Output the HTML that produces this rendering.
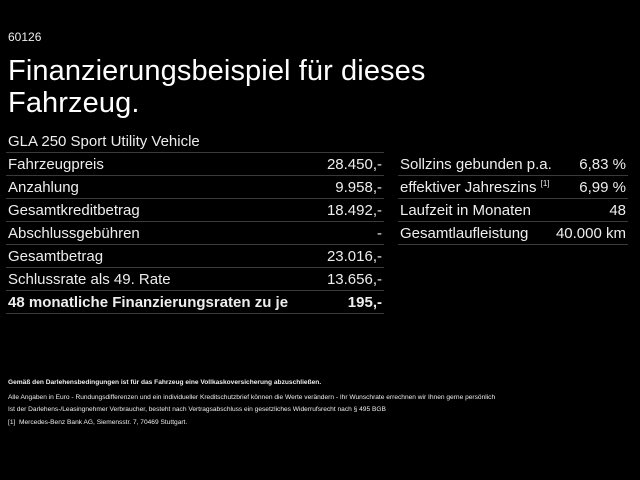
<!DOCTYPE html>
<html><head><meta charset="utf-8"><style>
body{margin:0;width:640px;height:480px;background:#000;color:#eee;font-family:"Liberation Sans",sans-serif;position:relative;overflow:hidden}
.a{position:absolute;white-space:nowrap}
.row{position:absolute;height:23px;border-bottom:1px solid #3a3a3a;font-size:15px;line-height:22px}
.row span{position:absolute;right:2px;top:2px}
.l{left:6px;width:378px}
.r{left:398px;width:230px}
.row .t{position:absolute;left:2px;right:auto}
sup{line-height:0;font-size:8px;vertical-align:6px}
.f{font-size:6.6px}
</style></head><body>
<div class="a" style="left:8px;top:30px;font-size:12px">60126</div>
<div class="a" style="left:8px;top:55px;font-size:29px;line-height:32px;color:#fff;letter-spacing:0.1px">Finanzierungsbeispiel für dieses<br>Fahrzeug.</div>
<div class="row l" style="top:129px"><span class="t">GLA 250 Sport Utility Vehicle</span></div>
<div class="row l" style="top:152px"><span class="t">Fahrzeugpreis</span><span>28.450,-</span></div>
<div class="row l" style="top:175px"><span class="t">Anzahlung</span><span>9.958,-</span></div>
<div class="row l" style="top:198px"><span class="t">Gesamtkreditbetrag</span><span>18.492,-</span></div>
<div class="row l" style="top:221px"><span class="t">Abschlussgebühren</span><span>-</span></div>
<div class="row l" style="top:244px"><span class="t">Gesamtbetrag</span><span>23.016,-</span></div>
<div class="row l" style="top:267px"><span class="t">Schlussrate als 49. Rate</span><span>13.656,-</span></div>
<div class="row l" style="top:290px;font-weight:bold"><span class="t">48 monatliche Finanzierungsraten zu je</span><span>195,-</span></div>
<div class="row r" style="top:152px;border-bottom-color:#3a3a3a"><span class="t">Sollzins gebunden p.a.</span><span>6,83 %</span></div>
<div class="row r" style="top:175px"><span class="t">effektiver Jahreszins <sup>[1]</sup></span><span>6,99 %</span></div>
<div class="row r" style="top:198px"><span class="t">Laufzeit in Monaten</span><span>48</span></div>
<div class="row r" style="top:221px"><span class="t">Gesamtlaufleistung</span><span>40.000 km</span></div>
<div class="a f" style="left:8px;top:379px;font-weight:bold">Gemäß den Darlehensbedingungen ist für das Fahrzeug eine Vollkaskoversicherung abzuschließen.</div>
<div class="a f" style="left:8px;top:392px;line-height:12px">Alle Angaben in Euro - Rundungsdifferenzen und ein individueller Kreditschutzbrief können die Werte verändern - Ihr Wunschrate errechnen wir Ihnen gerne persönlich<br>Ist der Darlehens-/Leasingnehmer Verbraucher, besteht nach Vertragsabschluss ein gesetzliches Widerrufsrecht nach § 495 BGB</div>
<div class="a f" style="left:8px;top:419px">[1]&nbsp; Mercedes-Benz Bank AG, Siemensstr. 7, 70469 Stuttgart.</div>
</body></html>
